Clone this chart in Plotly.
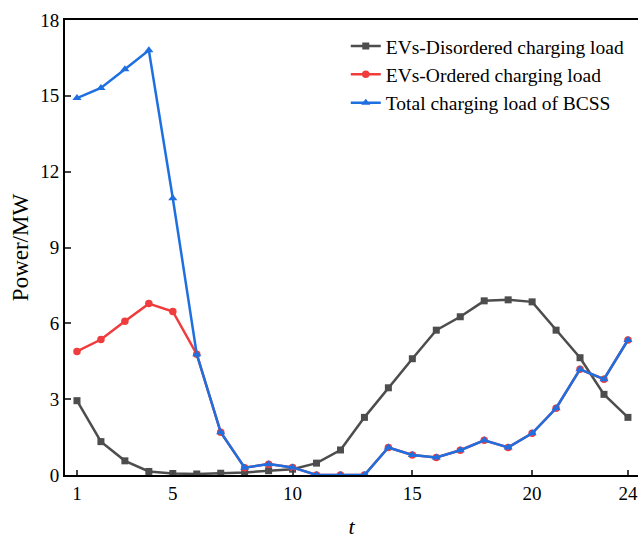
import plotly.graph_objects as go

t = list(range(1, 25))
disordered = [2.94, 1.32, 0.56, 0.14, 0.06, 0.04, 0.07, 0.10, 0.17, 0.23, 0.47, 0.99,
              2.28, 3.45, 4.60, 5.73, 6.26, 6.89, 6.93, 6.85, 5.73, 4.64, 3.19, 2.28]
ordered = [4.89, 5.36, 6.08, 6.78, 6.47, 4.78, 1.69, 0.29, 0.43, 0.30, 0.0, 0.0,
           0.0, 1.09, 0.79, 0.69, 0.98, 1.37, 1.09, 1.65, 2.64, 4.18, 3.79, 5.34]
total = [14.91, 15.31, 16.05, 16.80, 10.95, 4.78, 1.69, 0.29, 0.43, 0.30, 0.0, 0.0,
         0.0, 1.09, 0.79, 0.69, 0.98, 1.37, 1.09, 1.65, 2.64, 4.18, 3.79, 5.34]
names = ["EVs-Disordered charging load", "EVs-Ordered charging load", "Total charging load of BCSS"]
x_ticks = [1, 5, 10, 15, 20, 24]
y_ticks = [0, 3, 6, 9, 12, 15, 18]

GREY = "#4d4d4d"
RED = "#f03c3c"
BLUE = "#1e6fe0"

fig = go.Figure()
fig.add_trace(go.Scatter(x=t, y=disordered, name=names[0], mode="lines+markers",
                         line=dict(color=GREY, width=2.5),
                         marker=dict(symbol="square", size=7, color=GREY)))
fig.add_trace(go.Scatter(x=t, y=ordered, name=names[1], mode="lines+markers",
                         line=dict(color=RED, width=2.5),
                         marker=dict(symbol="circle", size=7.5, color=RED)))
fig.add_trace(go.Scatter(x=t, y=total, name=names[2], mode="lines+markers",
                         line=dict(color=BLUE, width=2.5),
                         marker=dict(symbol="triangle-up", size=8, color=BLUE)))

font_family = "Liberation Serif, Times New Roman, serif"
fig.update_layout(
    width=638, height=539,
    margin=dict(l=65, r=0, t=20, b=58),
    paper_bgcolor="white", plot_bgcolor="white",
    font=dict(family=font_family, size=19, color="black"),
    showlegend=True,
    legend=dict(x=0.49, y=0.985, xanchor="left", yanchor="top",
                bgcolor="rgba(0,0,0,0)", font=dict(size=19.5, family=font_family),
                tracegroupgap=0),
    xaxis=dict(range=[0.5, 24.42], tickvals=x_ticks, ticks="inside", ticklen=5, tickwidth=2,
               showline=True, linewidth=2, linecolor="black", mirror=True,
               showgrid=False, zeroline=False,
               title=dict(text="<i>t</i>", font=dict(size=22), standoff=20)),
    yaxis=dict(range=[0, 18], tickvals=y_ticks, ticks="inside", ticklen=6, tickwidth=2,
               showline=True, linewidth=2, linecolor="black",
               showgrid=False, zeroline=False,
               title=dict(text="Power/MW", font=dict(size=23), standoff=5)),
)

fig.write_html("out.html")
